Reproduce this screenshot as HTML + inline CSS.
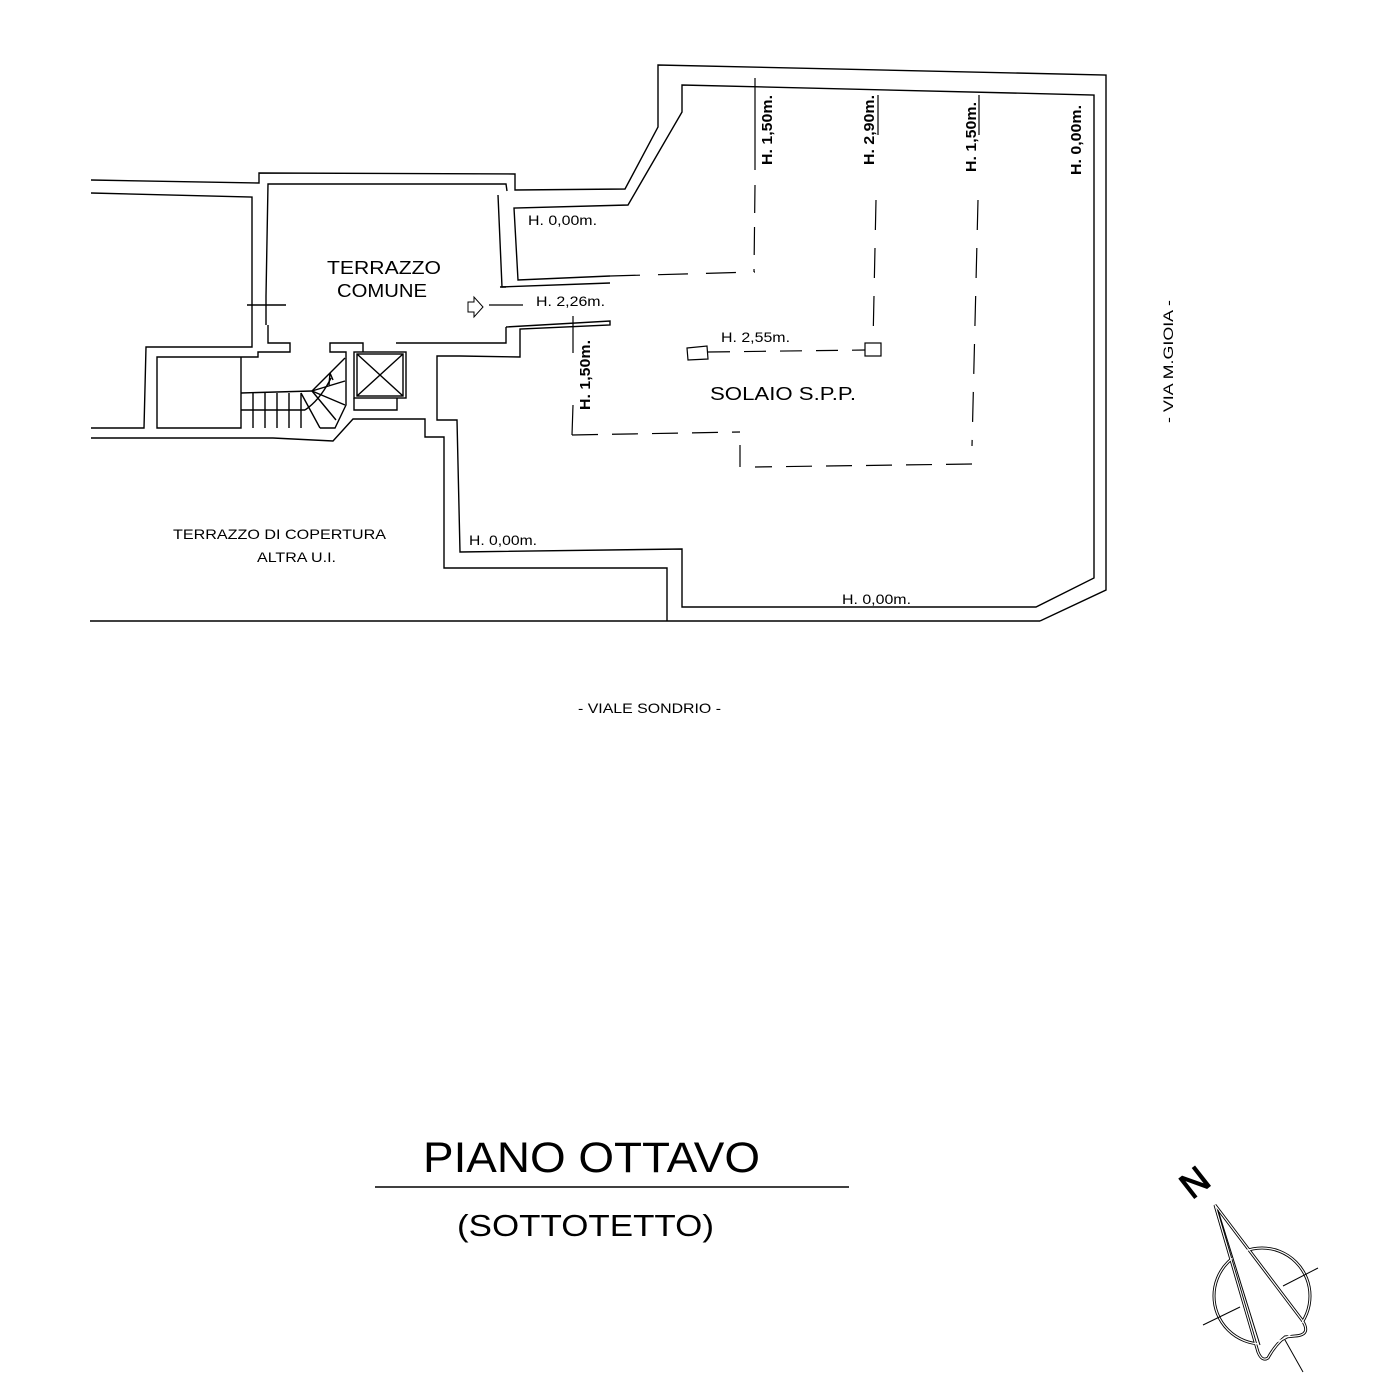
<!DOCTYPE html>
<html><head><meta charset="utf-8"><style>
html,body{margin:0;padding:0;background:#fff;}
svg{display:block;}
text{font-family:"Liberation Sans",sans-serif;fill:#000;}
</style></head><body>
<svg width="1388" height="1374" viewBox="0 0 1388 1374" xmlns="http://www.w3.org/2000/svg">
<g fill="none" stroke="#000" stroke-width="1.4">
<polyline points="91,180 259,183 259,173 515,174 515,190 625,189 658,127 658,65 1106,75 1106,590 1040,621"/>
<line x1="90" y1="621" x2="1040" y2="621"/>
<polyline points="91,193 252,197 252,347 146,347 144,428 91,428"/>
<polyline points="268,325 268,343 290,343 290,352 258,352 258,357 157,357 157,428 241,428 241,357"/>
<line x1="247" y1="305" x2="286" y2="305"/>
<line x1="266" y1="296" x2="266" y2="325" />
<polyline points="266,296 268,184 506,184 507,191"/>
<polyline points="498,195 502,287 506,287"/>
<polyline points="506,327 506,343 396,343"/>
<line x1="241" y1="393" x2="312" y2="391"/>
<line x1="241" y1="410" x2="305" y2="410"/>
<line x1="253" y1="393" x2="253" y2="428"/><line x1="265" y1="393" x2="265" y2="428"/>
<line x1="277" y1="393" x2="277" y2="428"/><line x1="289" y1="393" x2="289" y2="428"/>
<line x1="301" y1="393" x2="301" y2="428"/>
<line x1="312" y1="391" x2="345" y2="358"/><line x1="312" y1="391" x2="345" y2="381"/>
<line x1="312" y1="391" x2="345" y2="405"/><line x1="312" y1="391" x2="336" y2="420"/>
<line x1="301" y1="393" x2="320" y2="428"/>
<path d="M305,410 Q320,400 331,378"/>
<polyline points="329,385 330,373 333,380"/>
<polyline points="320,428 335,428 346,405 346,352 330,352 330,343 363,343 363,352"/>
<rect x="354" y="352" width="52" height="46"/>
<rect x="357" y="354" width="46" height="42"/>
<line x1="357" y1="354" x2="403" y2="396"/><line x1="403" y1="354" x2="357" y2="396"/>
<polyline points="354,398 354,410 397,410 397,398"/>
<polyline points="91,438 273,438 333,441 353,419 425,419 425,437 444,437 444,568 667,568 667,621"/>
<polyline points="460,356 437,356 437,420 457,420 460,552 682,549 682,607 1036,607 1094,578 1094,95 682,85 682,112 628,205 514,208 518,280 610,276"/>
<polyline points="500,287 610,283"/>
<polyline points="506,327 610,321 610,325 520,329 520,357 460,356"/>
</g>
<g fill="none" stroke="#000" stroke-width="1.2">
<line x1="755" y1="78" x2="755" y2="170"/>
<line x1="755" y1="185" x2="754" y2="272" stroke-dasharray="28,14"/>
<line x1="610" y1="276" x2="755" y2="272" stroke-dasharray="30,18"/>
<line x1="878" y1="95" x2="878" y2="135"/>
<line x1="876" y1="200" x2="873" y2="343" stroke-dasharray="30,18"/>
<rect x="865" y="343" width="16" height="13"/>
<line x1="979" y1="95" x2="979" y2="135"/>
<line x1="978" y1="200" x2="972" y2="446" stroke-dasharray="30,18"/>
<line x1="972" y1="464" x2="755" y2="467" stroke-dasharray="26,14"/>
<line x1="740" y1="445" x2="740" y2="467"/>
<line x1="573" y1="353" x2="573" y2="316"/>
<line x1="573" y1="405" x2="572" y2="435"/>
<line x1="572" y1="435" x2="740" y2="432" stroke-dasharray="26,14"/>
<polygon points="687,348 707,346 708,359 688,360"/>
<line x1="708" y1="352" x2="865" y2="350" stroke-dasharray="22,14"/>
<line x1="489" y1="305" x2="523" y2="305"/>
<polygon points="468,302 474,302 474,297 483,307 474,317 474,312 468,312" stroke-width="1"/>
</g>
<g font-size="14">
<text x="528" y="225" textLength="69" lengthAdjust="spacingAndGlyphs">H. 0,00m.</text>
<text x="536" y="306" textLength="69" lengthAdjust="spacingAndGlyphs">H. 2,26m.</text>
<text x="721" y="342" textLength="69" lengthAdjust="spacingAndGlyphs">H. 2,55m.</text>
<text x="469" y="545" textLength="68" lengthAdjust="spacingAndGlyphs">H. 0,00m.</text>
<text x="842" y="604" textLength="69" lengthAdjust="spacingAndGlyphs">H. 0,00m.</text>
<text x="173" y="539" textLength="213" lengthAdjust="spacingAndGlyphs">TERRAZZO DI COPERTURA</text>
<text x="257" y="562" textLength="79" lengthAdjust="spacingAndGlyphs">ALTRA U.I.</text>
<text x="578" y="713" textLength="143" lengthAdjust="spacingAndGlyphs">- VIALE SONDRIO -</text>
</g>
<g font-size="15" font-weight="bold">
<text transform="translate(772,165) rotate(-90)" textLength="70" lengthAdjust="spacingAndGlyphs">H. 1,50m.</text>
<text transform="translate(874,165) rotate(-90)" textLength="70" lengthAdjust="spacingAndGlyphs">H. 2,90m.</text>
<text transform="translate(976,172) rotate(-90)" textLength="70" lengthAdjust="spacingAndGlyphs">H. 1,50m.</text>
<text transform="translate(1081,175) rotate(-90)" textLength="70" lengthAdjust="spacingAndGlyphs">H. 0,00m.</text>
<text transform="translate(590,410) rotate(-90)" textLength="70" lengthAdjust="spacingAndGlyphs">H. 1,50m.</text>
</g>
<text transform="translate(1173,423) rotate(-90)" font-size="14" textLength="123" lengthAdjust="spacingAndGlyphs">- VIA M.GIOIA -</text>
<g font-size="18">
<text x="327" y="274" textLength="114" lengthAdjust="spacingAndGlyphs">TERRAZZO</text>
<text x="337" y="297" textLength="90" lengthAdjust="spacingAndGlyphs">COMUNE</text>
<text x="710" y="400" textLength="146" lengthAdjust="spacingAndGlyphs">SOLAIO S.P.P.</text>
</g>
<text x="423" y="1172" font-size="43" textLength="337" lengthAdjust="spacingAndGlyphs">PIANO OTTAVO</text>
<line x1="375" y1="1187" x2="849" y2="1187" stroke="#000" stroke-width="1.4"/>
<text x="457" y="1236" font-size="31" textLength="257" lengthAdjust="spacingAndGlyphs">(SOTTOTETTO)</text>
<g fill="none" stroke="#000" stroke-width="3">
<circle cx="1262" cy="1296" r="48"/>
<path d="M1215,1205 L1302,1320 Q1312,1335 1295,1336 L1285,1337 Q1275,1345 1268,1358 Q1262,1362 1258,1352 Z" fill="#fff"/>
</g>
<g fill="none" stroke="#fff" stroke-width="1.2">
<circle cx="1262" cy="1296" r="48"/>
<path d="M1215,1205 L1302,1320 Q1312,1335 1295,1336 L1285,1337 Q1275,1345 1268,1358 Q1262,1362 1258,1352 Z"/>
</g>
<g stroke="#000" stroke-width="1">
<line x1="1203" y1="1325" x2="1240" y2="1307"/>
<line x1="1283" y1="1286" x2="1318" y2="1268"/>
<line x1="1285" y1="1340" x2="1303" y2="1372"/>
<line x1="1218" y1="1210" x2="1260" y2="1345"/>
</g>
<text transform="translate(1192,1200) rotate(-38)" font-size="36" fill="#fff" stroke="#000" stroke-width="1.2">N</text>
</svg>
</body></html>
